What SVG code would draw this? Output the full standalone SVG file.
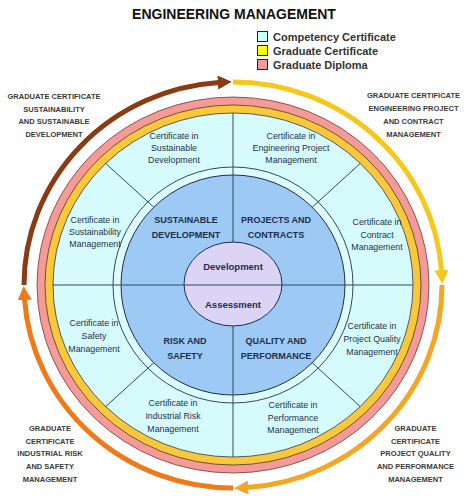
<svg xmlns="http://www.w3.org/2000/svg" width="468" height="496" viewBox="0 0 468 496">
<style>
.title{font-family:"Liberation Sans",Arial,sans-serif;font-weight:bold;font-size:14px;fill:#111;text-anchor:middle}
.leg{font-family:"Liberation Sans",Arial,sans-serif;font-weight:bold;font-size:11px;fill:#333}
.grad{font-family:"Liberation Sans",Arial,sans-serif;font-weight:bold;font-size:7.5px;fill:#3a3a3a;text-anchor:middle}
.cert{font-family:"Liberation Sans",Arial,sans-serif;font-size:8.8px;fill:#22324a;text-anchor:middle}
.area{font-family:"Liberation Sans",Arial,sans-serif;font-weight:bold;font-size:9px;fill:#1f2d4d;text-anchor:middle}
.core{font-family:"Liberation Sans",Arial,sans-serif;font-weight:bold;font-size:9.5px;fill:#1f2d4d;text-anchor:middle}
.div{stroke:#2e4a5a;stroke-width:1;fill:none}
.arc{fill:none;stroke-width:5}
.lsq{stroke:#222;stroke-width:1}
</style>
<defs>
<marker id="mBrown" markerUnits="userSpaceOnUse" markerWidth="14" markerHeight="14" viewBox="0 0 14 14" refX="1" refY="7" orient="auto"><path d="M0,0 L14,7 L0,14 z" fill="#8b3a12"/></marker>
<marker id="mYellow" markerUnits="userSpaceOnUse" markerWidth="14" markerHeight="14" viewBox="0 0 14 14" refX="1" refY="7" orient="auto"><path d="M0,0 L14,7 L0,14 z" fill="#f7c71c"/></marker>
<marker id="mLOrange" markerUnits="userSpaceOnUse" markerWidth="14" markerHeight="14" viewBox="0 0 14 14" refX="1" refY="7" orient="auto"><path d="M0,0 L14,7 L0,14 z" fill="#f5a623"/></marker>
<marker id="mDOrange" markerUnits="userSpaceOnUse" markerWidth="14" markerHeight="14" viewBox="0 0 14 14" refX="1" refY="7" orient="auto"><path d="M0,0 L14,7 L0,14 z" fill="#f07a17"/></marker>
</defs>
<rect width="468" height="496" fill="#ffffff"/>
<g id="title"><text class="title" x="234" y="18.5">ENGINEERING MANAGEMENT</text></g>
<g id="legend">
<rect class="lsq" x="257.5" y="31.5" width="10" height="10" fill="#ccffff"/>
<text class="leg" x="273" y="40.5">Competency Certificate</text>
<rect class="lsq" x="257.5" y="45.5" width="10" height="10" fill="#ffff00"/>
<text class="leg" x="273" y="54.5">Graduate Certificate</text>
<rect class="lsq" x="257.5" y="59.5" width="10" height="10" fill="#f29a9a"/>
<text class="leg" x="273" y="68.5">Graduate Diploma</text>
</g>
<g id="rings">
<ellipse cx="233" cy="285" rx="196" ry="188" fill="#f59a96" stroke="#6a4040" stroke-width="0.8"/>
<ellipse cx="233" cy="285" rx="188" ry="180" fill="#f9c83a" stroke="#4a3a2a" stroke-width="0.8"/>
<ellipse cx="233" cy="285" rx="180" ry="172" fill="#d6fbfd" stroke="#2e3a4a" stroke-width="0.8"/>
<ellipse cx="233" cy="285" rx="120" ry="118" fill="#dcfcfd" stroke="#2e4a5a" stroke-width="1"/>
<ellipse cx="233" cy="285" rx="112" ry="110" fill="#9ccaf5" stroke="#1f2d4d" stroke-width="1"/>
</g>
<g id="connectors">
<path class="div" d="M105.7,163.4 L153.8,207.2 M360.3,163.4 L312.2,207.2 M105.7,406.6 L153.8,362.8 M360.3,406.6 L312.2,362.8 M233,113 L233,242 M233,326 L233,457"/>
<path class="arc" stroke="#8b3a12" d="M24,285 A209,203 0 0 1 218.8,82.5" marker-end="url(#mBrown)"/>
<path class="arc" stroke="#f7c71c" d="M233,82 A209,203 0 0 1 441.5,271" marker-end="url(#mYellow)"/>
<path class="arc" stroke="#f5a623" d="M442,285 A209,203 0 0 1 247.2,487.5" marker-end="url(#mLOrange)"/>
<path class="arc" stroke="#f07a17" d="M233,488 A209,203 0 0 1 24.5,299" marker-end="url(#mDOrange)"/>
</g>
<g id="core">
<ellipse cx="233" cy="284" rx="49" ry="42" fill="#dcd4f6" stroke="#1f2d4d" stroke-width="1"/>
<line class="div" x1="53" y1="285" x2="413" y2="285"/>
<text class="core" x="233" y="270">Development</text>
<text class="core" x="233" y="308">Assessment</text>
</g>
<g id="area-sustainable"><text class="area" x="186" y="223">SUSTAINABLE</text><text class="area" x="186" y="238">DEVELOPMENT</text></g>
<g id="area-projects"><text class="area" x="276" y="223">PROJECTS AND</text><text class="area" x="276" y="238">CONTRACTS</text></g>
<g id="area-risk"><text class="area" x="185" y="344">RISK AND</text><text class="area" x="185" y="359">SAFETY</text></g>
<g id="area-quality"><text class="area" x="276" y="344">QUALITY AND</text><text class="area" x="276" y="359">PERFORMANCE</text></g>
<g id="cert-sust-dev"><text class="cert" x="174" y="138.5">Certificate in</text><text class="cert" x="174" y="150.5">Sustainable</text><text class="cert" x="174" y="162.5">Development</text></g>
<g id="cert-sust-mgmt"><text class="cert" x="95" y="223">Certificate in</text><text class="cert" x="95" y="235">Sustainability</text><text class="cert" x="95" y="247">Management</text></g>
<g id="cert-eng-proj"><text class="cert" x="291" y="138.5">Certificate in</text><text class="cert" x="291" y="150.5">Engineering Project</text><text class="cert" x="291" y="162.5">Management</text></g>
<g id="cert-contract"><text class="cert" x="377" y="225">Certificate in</text><text class="cert" x="377" y="237.5">Contract</text><text class="cert" x="377" y="250">Management</text></g>
<g id="cert-safety"><text class="cert" x="94" y="326">Certificate in</text><text class="cert" x="94" y="339">Safety</text><text class="cert" x="94" y="352">Management</text></g>
<g id="cert-ind-risk"><text class="cert" x="173" y="406">Certificate in</text><text class="cert" x="173" y="418.5">Industrial Risk</text><text class="cert" x="173" y="431.5">Management</text></g>
<g id="cert-proj-quality"><text class="cert" x="372" y="329">Certificate in</text><text class="cert" x="372" y="342">Project Quality</text><text class="cert" x="372" y="355">Management</text></g>
<g id="cert-performance"><text class="cert" x="293" y="408">Certificate in</text><text class="cert" x="293" y="420.5">Performance</text><text class="cert" x="293" y="433">Management</text></g>
<g id="gc-sustainability"><text class="grad" x="54" y="99">GRADUATE CERTIFICATE</text><text class="grad" x="54" y="111.5">SUSTAINABILITY</text><text class="grad" x="54" y="124">AND SUSTAINABLE</text><text class="grad" x="54" y="137">DEVELOPMENT</text></g>
<g id="gc-engineering"><text class="grad" x="413.5" y="98">GRADUATE CERTIFICATE</text><text class="grad" x="413.5" y="111">ENGINEERING PROJECT</text><text class="grad" x="413.5" y="123.5">AND CONTRACT</text><text class="grad" x="413.5" y="136.5">MANAGEMENT</text></g>
<g id="gc-risk"><text class="grad" x="50" y="431">GRADUATE</text><text class="grad" x="50" y="444">CERTIFICATE</text><text class="grad" x="50" y="456">INDUSTRIAL RISK</text><text class="grad" x="50" y="469">AND SAFETY</text><text class="grad" x="50" y="482">MANAGEMENT</text></g>
<g id="gc-quality"><text class="grad" x="415.5" y="431">GRADUATE</text><text class="grad" x="415.5" y="444">CERTIFICATE</text><text class="grad" x="415.5" y="456">PROJECT QUALITY</text><text class="grad" x="415.5" y="469">AND PERFORMANCE</text><text class="grad" x="415.5" y="482">MANAGEMENT</text></g>
</svg>
